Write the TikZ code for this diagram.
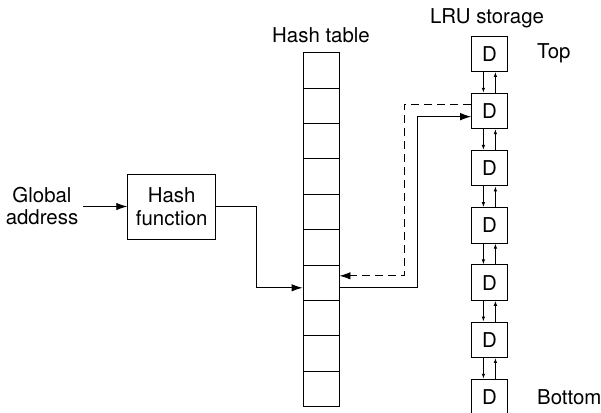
\documentclass[tikz,border=0pt]{standalone}
\usepackage{fontspec}
\setmainfont{TeX Gyre Heros}
\usetikzlibrary{arrows.meta,positioning}

\tikzset{
  box/.style={draw, line width=0.9bp, inner sep=0pt},
  cellbox/.style={box, minimum width=36bp, minimum height=35.4bp},
  dbox/.style={box, minimum width=35.5bp, minimum height=35.5bp},
  link/.style={line width=0.9bp, -{Latex[length=11bp,width=7.5bp]}},
  smalllink/.style={line width=0.9bp, -{Latex[length=5bp,width=3.5bp]}},
}

\begin{document}
\begin{tikzpicture}[x=1bp, y=-1bp, font=\fontsize{20.5}{22.5}\selectfont]
 \useasboundingbox (0,0) rectangle (601,412);

 % input and hash function
 \node[align=center] (addr) at (42,206) {Global\\address};
 \node[box, minimum width=88bp, minimum height=65bp, align=center] (hashfn) at (171.7,206.5) {Hash\\function};

 % hash table
 \node (tabtitle) at (321,35) {Hash table};
 \foreach \i in {1,...,10} {
     \node[cellbox] (cell\i) at (321,{52.7+35.4*(\i-0.5)}) {};
 }

 % LRU storage
 \node (lrutitle) at (487,18.5) {LRU storage};
 \foreach \i in {1,...,7} {
     \node[dbox] (d\i) at (489.4,{53.75+57.2*(\i-1)}) {D};
 }
 \node[right=26bp of d1] (top) {Top};
 \node[right=26bp of d7] (bottom) {Bottom};

 \foreach \a/\b in {1/2, 2/3, 3/4, 4/5, 5/6, 6/7} {
     \draw[smalllink] ([xshift=-6bp]d\a.south) -- ([xshift=-6bp]d\b.north);
     \draw[smalllink] ([xshift=6bp]d\b.north) -- ([xshift=6bp]d\a.south);
 }

 % lines
 \draw[link] (83,0 |- hashfn.west) -- (hashfn.west);
 \draw[link] (hashfn.east) -- ++(40,0) |- ([yshift=-5bp]cell7.west);
 \draw[link] ([yshift=-5bp]cell7.east) -- ++(78,0) |- ([yshift=-5.7bp]d2.west);
 \draw[link, dash pattern=on 8bp off 5bp] ([yshift=7bp]d2.west) -- ++(-66.7,0) |- ([yshift=7bp]cell7.east);

\end{tikzpicture}
\end{document}
